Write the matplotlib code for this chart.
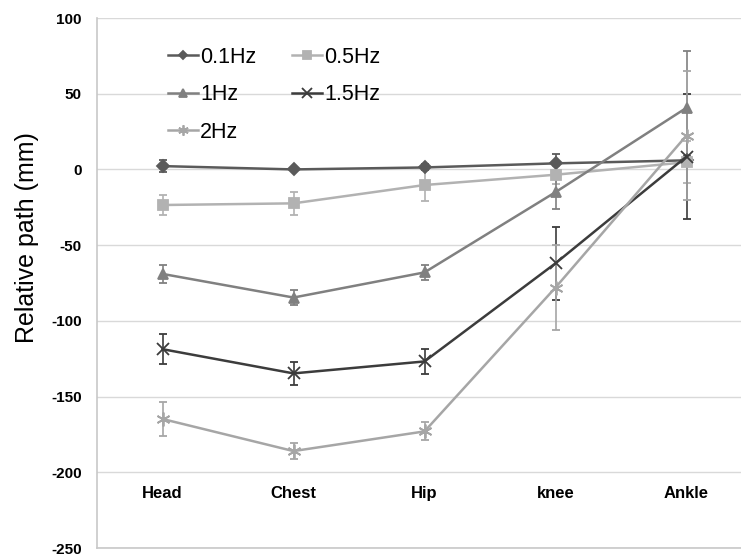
import numpy as np
import matplotlib.pyplot as plt

plt.rcParams['font.family'] = ['Liberation Sans', 'DejaVu Sans']

cats = ['Head', 'Chest', 'Hip', 'knee', 'Ankle']
labels = ['0.1Hz', '0.5Hz', '1Hz', '1.5Hz', '2Hz']

f01 = [2.2, 0.0, 1.3, 4.0, 6.0]
f01_err = [3.8, 1.0, 2.0, 6.0, 3.0]
f05 = [-23.5, -22.4, -10.3, -3.5, 4.8]
f05_err = [6.6, 7.7, 10.6, 6.0, 14.0]
f1 = [-69.0, -84.6, -68.0, -15.0, 40.7]
f1_err = [6.0, 5.0, 5.0, 11.4, 37.7]
f15 = [-118.7, -134.7, -126.8, -62.0, 8.5]
f15_err = [10.0, 7.7, 8.0, 24.0, 41.5]
f2 = [-164.8, -186.0, -173.0, -78.0, 22.4]
f2_err = [11.0, 5.4, 6.0, 28.0, 42.4]

series = [f01, f05, f1, f15, f2]
errs = [f01_err, f05_err, f1_err, f15_err, f2_err]
colors = ['#5a5a5a', '#b2b2b2', '#808080', '#3c3c3c', '#a6a6a6']
markers = ['D', 's', '^', 'x', (6, 2, 0)]
msizes = [6, 7, 7, 9, 10]

fig = plt.figure(figsize=(7.41, 5.57), dpi=100)
ax = fig.add_axes([97 / 741, 9 / 557, 655 / 741, 530 / 557])

x = np.arange(len(cats))
lines = []
for s, e, c, m, ms, lab in zip(series, errs, colors, markers, msizes, labels):
    cont = ax.errorbar(x, s, yerr=e, color=c, ecolor=c, elinewidth=1.2, capsize=3,
                       capthick=1.2, marker=m, markersize=ms, markeredgewidth=1.3,
                       linewidth=1.8, label=lab)
    lines.append(cont[0])

ax.set_xlim(-0.5, 4.5)
ax.set_ylim(-250, 100)
ax.set_yticks(np.arange(-250, 101, 50))
ax.set_yticklabels([str(v) for v in range(-250, 101, 50)], fontweight='bold', fontsize=11)
ax.set_xticks([])
ax.tick_params(axis='y', length=0, pad=11)
ax.grid(axis='y', color='#d9d9d9', linewidth=1)
ax.set_axisbelow(True)
for sp in ['top', 'right']:
    ax.spines[sp].set_visible(False)
ax.spines['left'].set_color('#c8c8c8')
ax.spines['bottom'].set_color('#c8c8c8')
ax.spines['left'].set_linewidth(1.2)
ax.spines['bottom'].set_linewidth(1.2)

for i, c in enumerate(cats):
    ax.text(i, -214, c, ha='center', va='center', fontsize=12, fontweight='bold')

ax.set_ylabel('Relative path (mm)', fontsize=18)
ax.yaxis.set_label_coords(-0.089, 0.585)

# row-major legend order like the original
order = [0, 2, 4, 1, 3]
ax.legend([lines[i] for i in order], [labels[i] for i in order],
          loc='upper left', bbox_to_anchor=(0.108, 0.9455), ncol=2, frameon=False,
          fontsize=15.5, handlelength=1.4, handletextpad=0.1, columnspacing=1.65,
          labelspacing=0.76, borderpad=0, borderaxespad=0, markerscale=0.75)

fig.savefig('out.png', dpi=100)
